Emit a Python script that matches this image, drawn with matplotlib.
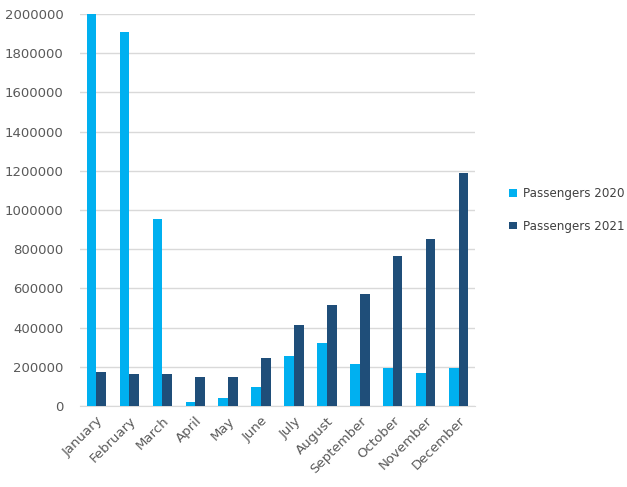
import numpy as np
from matplotlib import pyplot as plt

months = ["January", "February", "March", "April", "May", "June", "July",
          "August", "September", "October", "November", "December"]
passengers_2020 = [2000000, 1910000, 954000, 20000, 41000, 97000, 255000,
                   323000, 216000, 195000, 170000, 195000]
passengers_2021 = [173000, 163000, 163000, 150000, 150000, 245000, 413000,
                   515000, 571000, 765000, 852000, 1189000]

fig = plt.figure(figsize=(6.27, 4.87), dpi=100)
ax = fig.add_axes([0.1276, 0.1663, 0.63, 0.805])

x = np.arange(len(months))
w = 0.295
ax.bar(x - w / 2, passengers_2020, w, color="#00B0F0", label="Passengers 2020", zorder=3)
ax.bar(x + w / 2, passengers_2021, w, color="#1F4E79", label="Passengers 2021", zorder=3)

ax.set_xlim(-0.5, len(months) - 0.5)
ax.set_ylim(0, 2000000)
ax.set_yticks(np.arange(0, 2000001, 200000))
ax.set_yticklabels([str(v) for v in range(0, 2000001, 200000)])
ax.set_xticks(x)
ax.set_xticklabels(months, rotation=45, ha="right", rotation_mode="anchor")

ax.grid(axis="y", color="#D9D9D9", lw=1, zorder=0)
for s in ["top", "right", "left"]:
    ax.spines[s].set_visible(False)
ax.spines["bottom"].set_color("#D9D9D9")
ax.tick_params(length=0, labelsize=9.5, labelcolor="#595959")
ax.tick_params(axis="y", pad=12)
ax.tick_params(axis="x", pad=6)

ax.legend(loc="center left", bbox_to_anchor=(1.06, 0.5), frameon=False,
          fontsize=8.6, labelcolor="#404040", handlelength=0.6, handleheight=0.6,
          handletextpad=0.5, labelspacing=1.6)

fig.savefig("out.png")
